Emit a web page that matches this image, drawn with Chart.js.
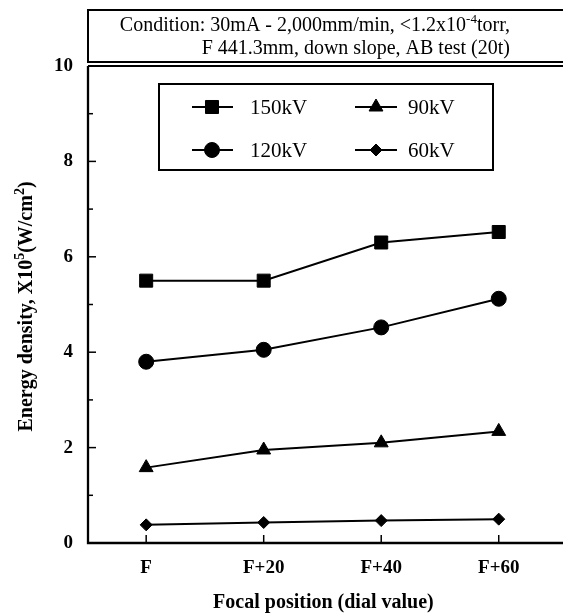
<!DOCTYPE html>
<html><head><meta charset="utf-8">
<script src="https://cdn.jsdelivr.net/npm/chart.js@4/dist/chart.umd.min.js"></script>
<style>html,body{margin:0;padding:0;background:#fff;overflow:hidden}canvas{display:block}</style>
</head><body>
<canvas id="c" width="563" height="615"></canvas>
<script>
const categories = ['F', 'F+20', 'F+40', 'F+60'];
const seriesNames = ['150kV', '120kV', '90kV', '60kV'];
const kv150 = [5.5, 5.5, 6.3, 6.52];
const kv120 = [3.8, 4.05, 4.52, 5.12];
const kv90 = [1.58, 1.95, 2.1, 2.34];
const kv60 = [0.38, 0.43, 0.47, 0.5];
const yTickValues = [0, 2, 4, 6, 8, 10];
const yMinorValues = [1, 3, 5, 7, 9];

const SERIF = '"Liberation Serif", "Times New Roman", serif';
const styles = [
  { pointStyle: 'rect', radius: 9.2 },
  { pointStyle: 'circle', radius: 7.5 },
  { pointStyle: 'triangle', radius: 8 },
  { pointStyle: 'rectRot', radius: 6 }
];
const allSeries = [kv150, kv120, kv90, kv60];

const datasets = allSeries.map((vals, k) => ({
  label: seriesNames[k],
  data: vals.map((v, i) => ({ x: i, y: v })),
  borderColor: '#000',
  backgroundColor: '#000',
  borderWidth: 2,
  pointStyle: styles[k].pointStyle,
  pointRadius: styles[k].radius,
  pointHoverRadius: styles[k].radius,
  pointBackgroundColor: '#000',
  pointBorderColor: '#000',
  pointBorderWidth: 1,
  tension: 0
}));

function drawPieces(ctx, pieces, x, y, align) {
  const base = ctx.font;
  let total = 0;
  pieces.forEach(p => {
    ctx.font = p.sup ? p.supFont : p.font;
    total += ctx.measureText(p.t).width;
  });
  let cx = align === 'right' ? x - total : align === 'center' ? x - total / 2 : x;
  ctx.textAlign = 'left';
  ctx.textBaseline = 'alphabetic';
  pieces.forEach(p => {
    ctx.font = p.sup ? p.supFont : p.font;
    ctx.fillText(p.t, cx, p.sup ? y - p.raise : y);
    cx += ctx.measureText(p.t).width;
  });
  ctx.font = base;
}

function drawMarker(ctx, style, r, x, y) {
  if (Chart.helpers && Chart.helpers.drawPoint) {
    Chart.helpers.drawPoint(ctx, { pointStyle: style, radius: r, borderWidth: 1, rotation: 0 }, x, y);
    return;
  }
  ctx.beginPath();
  if (style === 'circle') ctx.arc(x, y, r, 0, Math.PI * 2);
  else if (style === 'rect') { const s = r * Math.SQRT1_2; ctx.rect(x - s, y - s, 2 * s, 2 * s); }
  else if (style === 'triangle') { ctx.moveTo(x, y - r); ctx.lineTo(x + r * 0.866, y + r / 2); ctx.lineTo(x - r * 0.866, y + r / 2); ctx.closePath(); }
  else { ctx.moveTo(x - r, y); ctx.lineTo(x, y - r); ctx.lineTo(x + r, y); ctx.lineTo(x, y + r); ctx.closePath(); }
  ctx.fill(); ctx.stroke();
}

const decor = {
  id: 'decor',
  afterDraw(chart) {
    const ctx = chart.ctx;
    const a = chart.chartArea;
    const xs = chart.scales.x, ys = chart.scales.y;
    ctx.save();
    ctx.strokeStyle = '#000';
    ctx.fillStyle = '#000';
    ctx.lineWidth = 2.3;
    ctx.beginPath();
    ctx.moveTo(a.left, a.top); ctx.lineTo(a.left, a.bottom); ctx.lineTo(chart.width + 5, a.bottom);
    ctx.stroke();
    ctx.lineWidth = 2;
    ctx.beginPath();
    ctx.moveTo(a.left, a.top); ctx.lineTo(chart.width + 5, a.top);
    ctx.stroke();
    ctx.lineWidth = 1.5;
    yTickValues.forEach(v => {
      const py = ys.getPixelForValue(v);
      ctx.beginPath(); ctx.moveTo(a.left, py); ctx.lineTo(a.left + 8, py); ctx.stroke();
    });
    yMinorValues.forEach(v => {
      const py = ys.getPixelForValue(v);
      ctx.beginPath(); ctx.moveTo(a.left, py); ctx.lineTo(a.left + 5, py); ctx.stroke();
    });
    categories.forEach((c, i) => {
      const px = xs.getPixelForValue(i);
      ctx.beginPath(); ctx.moveTo(px, a.bottom); ctx.lineTo(px, a.bottom - 8); ctx.stroke();
    });
    // title box
    ctx.lineWidth = 2;
    ctx.strokeRect(a.left, 10, chart.width + 20 - a.left, 52);
    const f20 = '20px ' + SERIF, f13 = '13px ' + SERIF;
    drawPieces(ctx, [
      { t: 'Condition: 30mA - 2,000mm/min, <1.2x10', font: f20 },
      { t: '-4', sup: true, supFont: f13, raise: 8 },
      { t: 'torr,', font: f20 }
    ], 510, 31, 'right');
    drawPieces(ctx, [{ t: 'F 441.3mm, down slope, AB test (20t)', font: f20 }], 510, 54, 'right');
    // legend
    ctx.lineWidth = 2;
    ctx.strokeRect(159, 84, 334, 86);
    const rows = [107, 150];
    const cols = [{ l1: 192, l2: 233, m: 212, t: 250 }, { l1: 355, l2: 397, m: 376, t: 408 }];
    const order = [[0, 0, 0], [1, 1, 0], [2, 0, 1], [3, 1, 1]];
    order.forEach(([k, r, c]) => {
      const y = rows[r], col = cols[c];
      ctx.lineWidth = 2;
      ctx.beginPath(); ctx.moveTo(col.l1, y); ctx.lineTo(col.l2, y); ctx.stroke();
      ctx.lineWidth = 1;
      drawMarker(ctx, styles[k].pointStyle, styles[k].radius, col.m, y);
      ctx.textAlign = 'left'; ctx.textBaseline = 'middle';
      ctx.font = '21px ' + SERIF;
      ctx.fillText(seriesNames[k], col.t, y + 1);
    });
    // x title
    ctx.font = 'bold 20px ' + SERIF;
    ctx.textAlign = 'center'; ctx.textBaseline = 'alphabetic';
    ctx.fillText('Focal position (dial value)', (a.left + a.right) / 2 + 3, 608);
    // y title rotated
    ctx.save();
    ctx.translate(32, (a.top + a.bottom) / 2 + 2);
    ctx.rotate(-Math.PI / 2);
    const fb = 'bold 20px ' + SERIF, fs = 'bold 14px ' + SERIF;
    drawPieces(ctx, [
      { t: 'Energy density, X10', font: fb },
      { t: '5', sup: true, supFont: fs, raise: 8 },
      { t: '(W/cm', font: fb },
      { t: '2', sup: true, supFont: fs, raise: 8 },
      { t: ')', font: fb }
    ], 0, 0, 'center');
    ctx.restore();
    ctx.restore();
  }
};

new Chart(document.getElementById('c'), {
  type: 'line',
  data: { datasets },
  options: {
    responsive: false,
    animation: false,
    devicePixelRatio: 1,
    layout: { padding: { top: 66, left: 0, right: 0, bottom: 0 } },
    plugins: { legend: { display: false }, tooltip: { enabled: false }, title: { display: false } },
    scales: {
      x: {
        type: 'linear',
        min: -0.495,
        max: 3.46,
        afterBuildTicks: s => { s.ticks = categories.map((c, i) => ({ value: i })); },
        afterFit: s => { s.height = 72; },
        ticks: {
          callback: v => categories[v] !== undefined ? categories[v] : '',
          font: { family: SERIF, size: 19, weight: 'bold' },
          color: '#000',
          padding: 14,
          maxRotation: 0,
          autoSkip: false
        },
        grid: { display: false, drawTicks: false },
        border: { display: false }
      },
      y: {
        type: 'linear',
        min: 0,
        max: 10,
        afterBuildTicks: s => { s.ticks = yTickValues.map(v => ({ value: v })); },
        afterFit: s => { s.width = 88; },
        ticks: {
          callback: v => String(v),
          font: { family: SERIF, size: 19, weight: 'bold' },
          color: '#000',
          padding: 15,
          autoSkip: false
        },
        grid: { display: false, drawTicks: false },
        border: { display: false }
      }
    }
  },
  plugins: [decor]
});
</script>
</body></html>
